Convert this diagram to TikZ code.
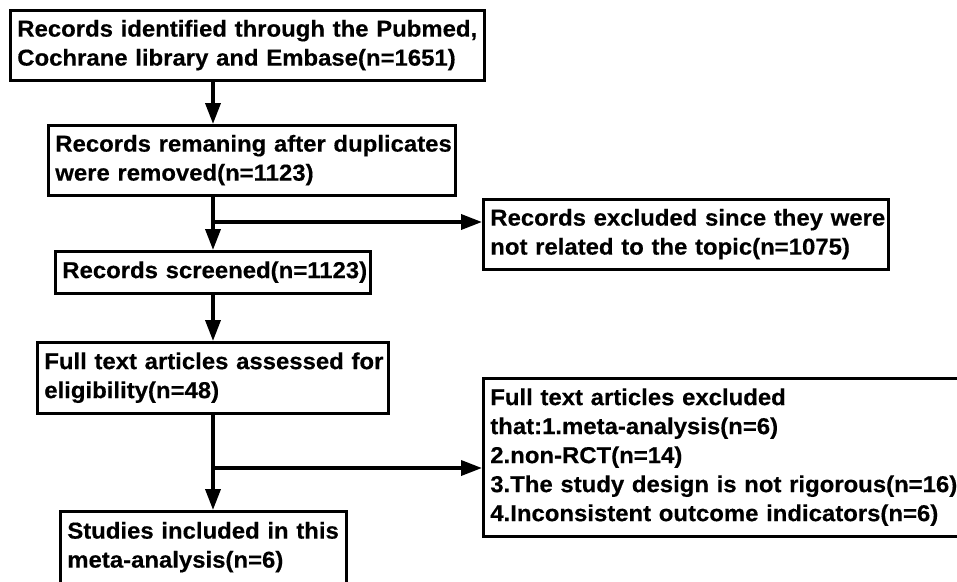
\documentclass[tikz,border=0pt]{standalone}
\usepackage{fontspec}
\setmainfont{Liberation Sans}[FakeStretch=1.04,BoldFeatures={FakeBold=0.4}]
\usetikzlibrary{arrows.meta}
\newcommand{\boxlines}[1]{\begin{tabular}{@{}l@{}}#1\end{tabular}}
\begin{document}
\begin{tikzpicture}[x=1pt,y=-1pt,
  box/.style={draw=black, line width=2.6pt, rectangle, anchor=north west,
    align=left, inner xsep=7pt, inner ysep=0pt,
    font=\fontsize{23}{29}\selectfont\bfseries},
  arr/.style={line width=3.6pt, -{Triangle[length=21pt,width=15pt]}}]
\useasboundingbox (0,0) rectangle (957,581);
\node[box, text width=460pt, minimum height=70pt] (b1) at (9,9)
  {\boxlines{Records identified through the Pubmed,\\Cochrane library and Embase(n=1651)}};
\node[box, text width=393pt, minimum height=70pt] (b2) at (47,124)
  {\boxlines{Records remaning after duplicates\\were removed(n=1123)}};
\node[box, text width=301pt, minimum height=42pt] (b3) at (54,250)
  {\boxlines{Records screened(n=1123)}};
\node[box, text width=337pt, minimum height=71pt] (b4) at (36,341)
  {\boxlines{Full text articles assessed for\\eligibility(n=48)}};
\node[box, text width=272pt, minimum height=72pt] (b5) at (59,510)
  {\boxlines{Studies included in this\\meta-analysis(n=6)}};
\node[box, text width=391pt, minimum height=70pt] (ra) at (482,198)
  {\boxlines{Records excluded since they were\\not related to the topic(n=1075)}};
\node[box, text width=466pt, minimum height=158pt] (rb) at (482,377)
  {\boxlines{Full text articles excluded\\that:1.meta-analysis(n=6)\\2.non-RCT(n=14)\\3.The study design is not rigorous(n=16)\\4.Inconsistent outcome indicators(n=6)}};
\coordinate (t) at (213,0);
\coordinate (j1) at (213,222);
\coordinate (j2) at (213,468);
\draw[arr] (b1.south -| t) -- (b2.north -| t);
\draw[arr] (b2.south -| t) -- (b3.north -| t);
\draw[arr] (j1) -- (ra.west |- j1);
\draw[arr] (b3.south -| t) -- (b4.north -| t);
\draw[arr] (b4.south -| t) -- (b5.north -| t);
\draw[arr] (j2) -- (rb.west |- j2);
\end{tikzpicture}
\end{document}
